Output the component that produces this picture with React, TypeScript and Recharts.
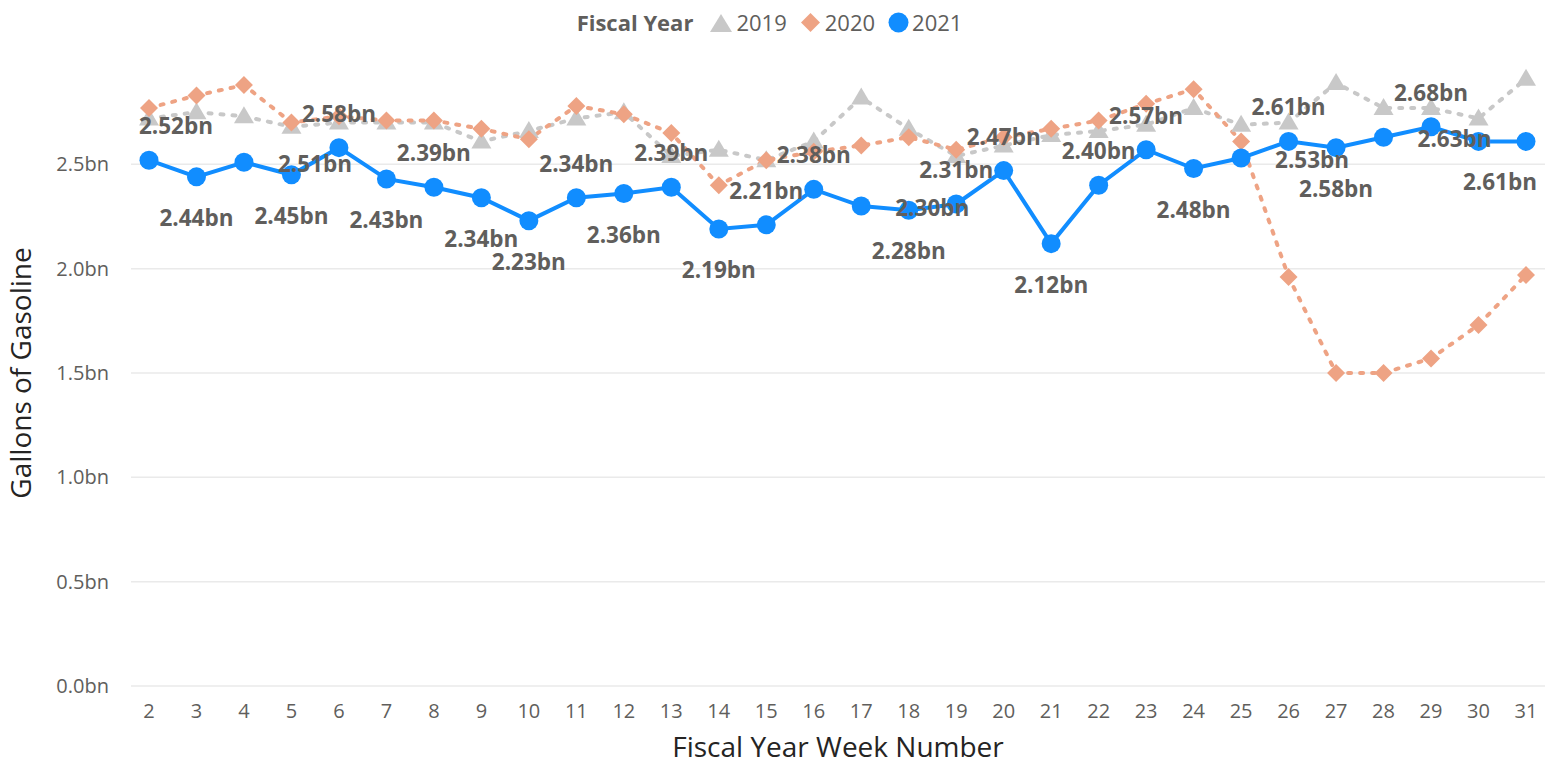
import { LineChart, Line, XAxis, YAxis, CartesianGrid, Legend, LabelList, Label } from 'recharts';

const FONT = "'Open Sans', 'Noto Sans', sans-serif";

const weeks = ['2', '3', '4', '5', '6', '7', '8', '9', '10', '11', '12', '13', '14', '15', '16', '17', '18', '19', '20', '21', '22', '23', '24', '25', '26', '27', '28', '29', '30', '31'];

const fy2019 = [2.72, 2.75, 2.73, 2.68, 2.70, 2.70, 2.70, 2.61, 2.66, 2.72, 2.75, 2.54, 2.57, 2.52, 2.61, 2.82, 2.67, 2.54, 2.59, 2.64, 2.66, 2.69, 2.77, 2.69, 2.70, 2.89, 2.77, 2.77, 2.72, 2.91];
const fy2020 = [2.77, 2.83, 2.88, 2.70, 2.73, 2.71, 2.71, 2.67, 2.62, 2.78, 2.74, 2.65, 2.40, 2.52, 2.56, 2.59, 2.63, 2.57, 2.63, 2.67, 2.71, 2.79, 2.86, 2.61, 1.96, 1.50, 1.50, 1.57, 1.73, 1.97];
const fy2021 = [2.52, 2.44, 2.51, 2.45, 2.58, 2.43, 2.39, 2.34, 2.23, 2.34, 2.36, 2.39, 2.19, 2.21, 2.38, 2.30, 2.28, 2.31, 2.47, 2.12, 2.40, 2.57, 2.48, 2.53, 2.61, 2.58, 2.63, 2.68, 2.61, 2.61];

const yTicks = [0, 0.5, 1, 1.5, 2, 2.5];

// where each 2021 data label sits: a = above, b = below, r = right, '' = hidden
const labelSpots = ['a', 'b', 'r', 'b', 'a', 'b', 'a', 'b', 'b', 'a', 'b', 'a', 'b', 'a', 'a', 'r', 'b', 'a', 'a', 'b', 'a', 'a', 'b', 'r', 'a', 'b', 'r', 'a', '', 'b'];

const C2019 = '#C8C8C8';
const C2020 = '#EEA384';
const C2021 = '#118DFF';
const TEXT = '#605E5C';

const chartData = weeks.map((w, i) => ({ week: w, fy2019: fy2019[i], fy2020: fy2020[i], fy2021: fy2021[i] }));

function Triangle(props: any) {
  const { cx, cy, index } = props;
  if (cx == null || cy == null) return <g key={`t-${index}`} />;
  return <path key={`t-${index}`} d={`M${cx},${cy - 10} L${cx + 10},${cy + 7} L${cx - 10},${cy + 7} Z`} fill={C2019} />;
}

function Diamond(props: any) {
  const { cx, cy, index } = props;
  if (cx == null || cy == null) return <g key={`d-${index}`} />;
  return <path key={`d-${index}`} d={`M${cx},${cy - 9} L${cx + 9},${cy} L${cx},${cy + 9} L${cx - 9},${cy} Z`} fill={C2020} />;
}

function Dot(props: any) {
  const { cx, cy, index } = props;
  if (cx == null || cy == null) return <g key={`c-${index}`} />;
  return <circle key={`c-${index}`} cx={cx} cy={cy} r={9.5} fill={C2021} />;
}

function PointLabel(props: any) {
  const { x, y, value, index } = props;
  const spot = labelSpots[index];
  if (!spot || x == null || y == null) return null;
  let lx = x;
  let ly = y;
  let anchor: 'middle' | 'start' = 'middle';
  if (spot === 'a') ly = y - 34;
  else if (spot === 'b') ly = y + 41;
  else {
    lx = x + 34;
    ly = y + 2;
    anchor = 'start';
  }
  if (anchor === 'middle') lx = Math.min(Math.max(lx, 176), 1500);
  return (
    <text x={lx} y={ly} dy="0.36em" textAnchor={anchor} fill={TEXT} fontSize={22.5} fontWeight={700} fontFamily={FONT}>
      {`${Number(value).toFixed(2)}bn`}
    </text>
  );
}

function LegendContent() {
  return (
    <div style={{ display: 'flex', justifyContent: 'center', alignItems: 'center', height: 36, paddingRight: 6, fontFamily: FONT, fontSize: 22, color: TEXT }}>
      <span style={{ fontWeight: 700, marginRight: 17 }}>Fiscal Year</span>
      <svg width={22} height={19} style={{ marginRight: 4 }}>
        <path d="M11,1 L22,19 L0,19 Z" fill={C2019} />
      </svg>
      <span style={{ marginRight: 13 }}>2019</span>
      <svg width={21} height={21} style={{ marginRight: 4 }}>
        <path d="M10.5,1 L20,10.5 L10.5,20 L1,10.5 Z" fill={C2020} />
      </svg>
      <span style={{ marginRight: 13 }}>2020</span>
      <svg width={21} height={21} style={{ marginRight: 3 }}>
        <circle cx={10.5} cy={10.5} r={10} fill={C2021} />
      </svg>
      <span>2021</span>
    </div>
  );
}

export default function App() {
  return (
    <div style={{ width: 1556, height: 784, background: '#fff', fontFamily: FONT }}>
      <style>{'body{margin:0}'}</style>
      <LineChart width={1556} height={784} data={chartData} margin={{ top: 4, right: 11, bottom: 0, left: 0 }}>
        <Legend verticalAlign="top" align="center" height={56} content={<LegendContent />} wrapperStyle={{ height: 56 }} />
        <CartesianGrid horizontal vertical={false} stroke="#EAEAEA" strokeWidth={1.5} horizontalValues={yTicks} />
        <XAxis
          dataKey="week"
          scale="point"
          padding={{ left: 18, right: 19 }}
          height={98}
          axisLine={false}
          tickLine={false}
          tickMargin={12}
          interval={0}
          tick={{ fill: TEXT, fontSize: 20, fontFamily: FONT }}
        >
          <Label value="Fiscal Year Week Number" position="insideBottom" offset={27} fill="#252423" fontSize={28} fontFamily={FONT} />
        </XAxis>
        <YAxis
          width={131}
          domain={[0, 3]}
          ticks={yTicks}
          axisLine={false}
          tickLine={false}
          tickMargin={16}
          tickFormatter={(v: number) => `${v.toFixed(1)}bn`}
          tick={{ fill: TEXT, fontSize: 20, fontFamily: FONT }}
        >
          <Label value="Gallons of Gasoline" angle={-90} position="insideLeft" offset={21} fill="#252423" fontSize={28} fontFamily={FONT} style={{ textAnchor: 'middle' }} />
        </YAxis>
        <Line
          dataKey="fy2019"
          stroke={C2019}
          strokeWidth={4}
          strokeDasharray="3 9"
          strokeLinecap="round"
          dot={Triangle}
          activeDot={false}
          isAnimationActive={false}
        />
        <Line
          dataKey="fy2020"
          stroke={C2020}
          strokeWidth={4}
          strokeDasharray="3 9"
          strokeLinecap="round"
          dot={Diamond}
          activeDot={false}
          isAnimationActive={false}
        />
        <Line
          dataKey="fy2021"
          stroke={C2021}
          strokeWidth={4}
          dot={Dot}
          activeDot={false}
          isAnimationActive={false}
        >
          <LabelList dataKey="fy2021" content={PointLabel} />
        </Line>
      </LineChart>
    </div>
  );
}
